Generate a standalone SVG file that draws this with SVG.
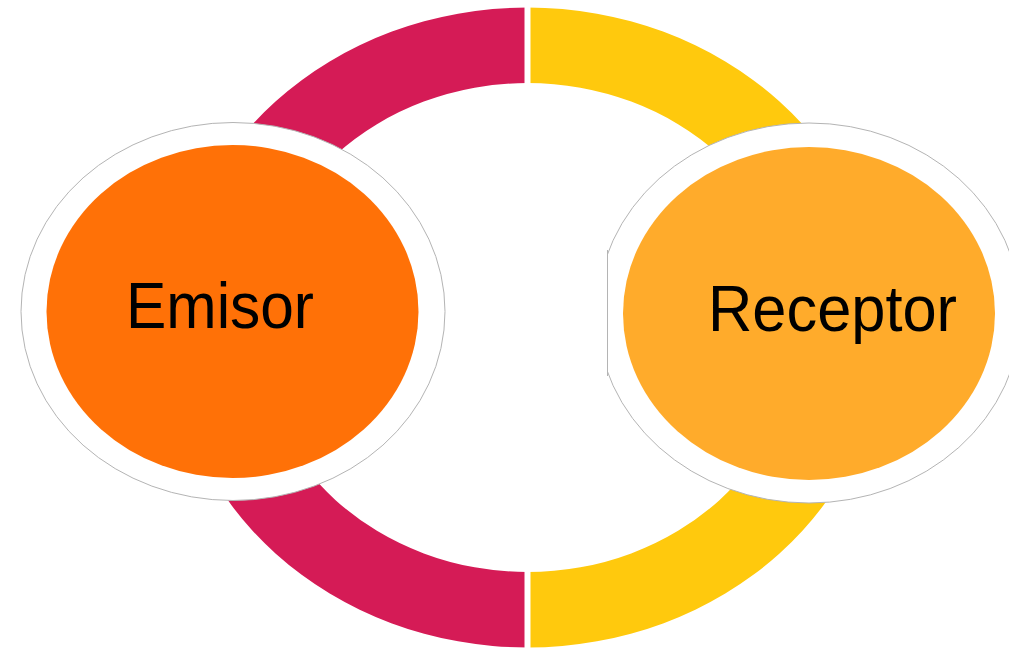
<svg xmlns="http://www.w3.org/2000/svg" width="1009" height="652" viewBox="0 0 1009 652">
  <style>
    .halo { fill: #ffffff; stroke: #b4b4b4; stroke-width: 1; }
    .label { font-family: "Liberation Sans", Arial, sans-serif; font-size: 65px; fill: #000000; }
  </style>
  <defs>
    <clipPath id="rightClip">
      <rect x="607" y="0" width="402" height="652"/>
    </clipPath>
  </defs>
  <rect x="0" y="0" width="1009" height="652" fill="#ffffff"/>
  <g id="connectors">
    <path id="arc-left" fill="#D51B56" d="M527.5,7.5 A356,320 0 0 0 527.5,647.5 L527.5,572 A271,244.5 0 0 1 527.5,83 Z"/>
    <path id="arc-right" fill="#FFC90D" d="M527.5,7.5 A356,320 0 0 1 527.5,647.5 L527.5,572 A271,244.5 0 0 0 527.5,83 Z"/>
    <line x1="527.5" y1="0" x2="527.5" y2="652" stroke="#ffffff" stroke-width="6"/>
  </g>
  <g id="emisor">
    <ellipse class="halo" cx="233" cy="311.5" rx="212" ry="189"/>
    <ellipse cx="232.5" cy="311.5" rx="186" ry="166.5" fill="#FF7107"/>
    <text class="label" x="126" y="328" textLength="188" lengthAdjust="spacingAndGlyphs">Emisor</text>
  </g>
  <g id="receptor">
    <g clip-path="url(#rightClip)">
      <ellipse class="halo" cx="809" cy="313" rx="212" ry="190"/>
    </g>
    <line x1="607.5" y1="250" x2="607.5" y2="376" stroke="#b4b4b4" stroke-width="1"/>
    <ellipse cx="809" cy="313.5" rx="186" ry="166.5" fill="#FFAB2B"/>
    <text class="label" x="708" y="331" textLength="249" lengthAdjust="spacingAndGlyphs">Receptor</text>
  </g>
</svg>
